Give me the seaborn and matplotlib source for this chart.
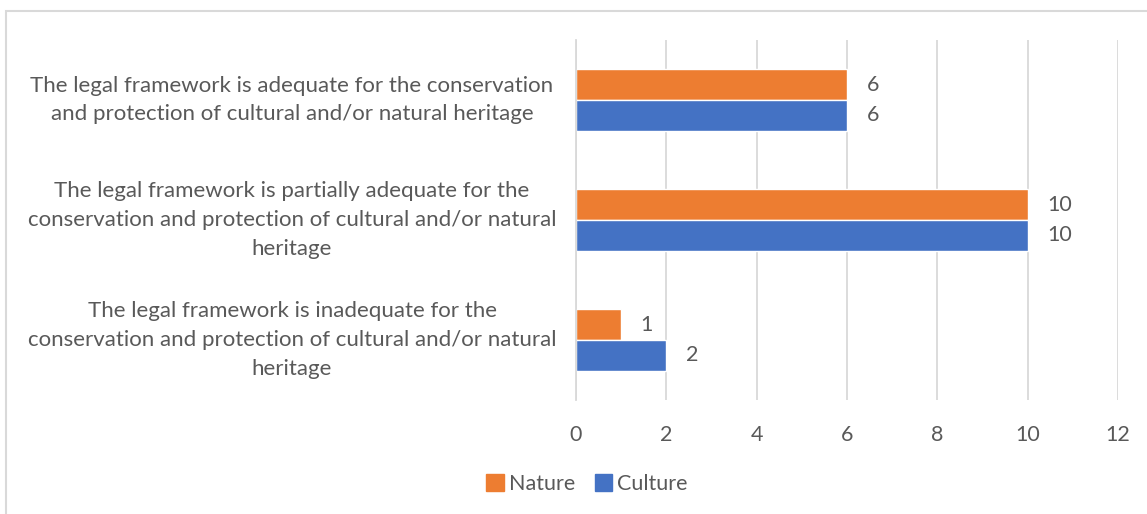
import pandas as pd
import seaborn as sns
import matplotlib.pyplot as plt
from matplotlib.patches import Rectangle
from matplotlib.transforms import blended_transform_factory

# Data
categories = [
    "The legal framework is adequate for the conservation\nand protection of cultural and/or natural heritage",
    "The legal framework is partially adequate for the\nconservation and protection of cultural and/or natural\nheritage",
    "The legal framework is inadequate for the\nconservation and protection of cultural and/or natural\nheritage",
]
nature = [6, 10, 1]
culture = [6, 10, 2]
series = ["Nature", "Culture"]
colors = ["#ED7D31", "#4472C4"]
x_ticks = [0, 2, 4, 6, 8, 10, 12]

df = pd.DataFrame({
    "category": categories * 2,
    "value": nature + culture,
    "series": ["Nature"] * 3 + ["Culture"] * 3,
})

sns.set_style("white")
plt.rcParams["font.family"] = ["Lato", "DejaVu Sans"]
text_color = "#595959"
grid_color = "#D9D9D9"

fig = plt.figure(figsize=(11.47, 5.14), dpi=100)
ax = fig.add_axes([576 / 1147, 1 - 400 / 514, (1118 - 576) / 1147, 360 / 514])

sns.barplot(data=df, y="category", x="value", hue="series", hue_order=series,
            palette=colors, orient="h", width=0.51, ax=ax, saturation=1,
            legend=False)

ax.set_xlim(0, 12)
ax.set_xticks(x_ticks)
ax.set_ylim(2.5, -0.5)
ax.grid(axis="x", color=grid_color, linewidth=1.3)
ax.set_axisbelow(True)
for s in ["top", "right", "bottom"]:
    ax.spines[s].set_visible(False)
ax.spines["left"].set_color(grid_color)
ax.spines["left"].set_linewidth(1.3)
ax.set_xlabel("")
ax.set_ylabel("")
ax.tick_params(axis="both", length=0, labelsize=15.5, colors=text_color)
ax.tick_params(axis="x", pad=18)

# category labels, centred in the space left of the plot
ax.set_yticklabels([])
trans = blended_transform_factory(fig.transFigure, ax.transData)
for i, cat in enumerate(categories):
    ax.text(292 / 1147, i, cat, transform=trans, ha="center", va="center",
            fontsize=16, color=text_color, linespacing=1.55)

for cont in ax.containers:
    ax.bar_label(cont, padding=14, fontsize=15.5, color=text_color)

# legend
handles = [Rectangle((0, 0), 1, 1, color=c) for c in colors]
fig.legend(handles, series, loc="center", bbox_to_anchor=(587 / 1147, 1 - 484 / 514),
           ncol=2, frameon=False, fontsize=15.5, handlelength=0.8, handleheight=0.8,
           handletextpad=0.25, columnspacing=0.9, labelcolor=text_color)

# chart border
fig.patches.append(Rectangle((6 / 1147, -0.1), 1.1, 1.1 - 11 / 514,
                             transform=fig.transFigure, fill=False,
                             edgecolor=grid_color, linewidth=1.5))

fig.savefig("out.png", dpi=100)
